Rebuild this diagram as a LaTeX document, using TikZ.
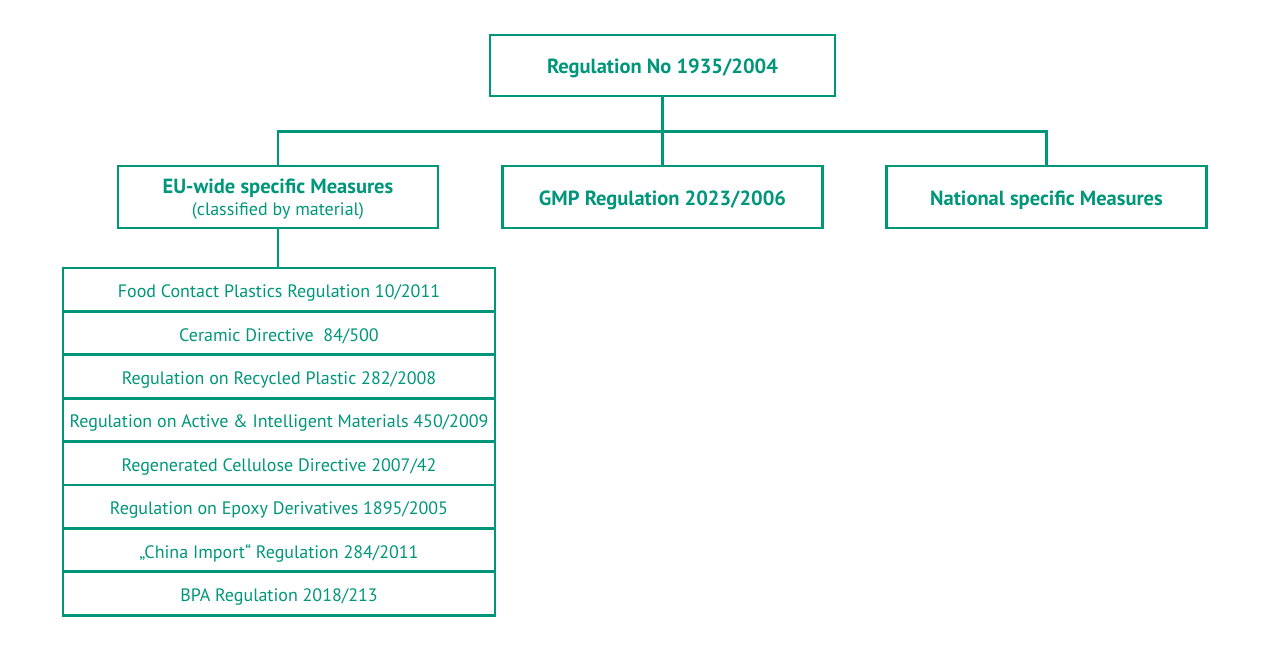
\documentclass[tikz,border=0pt]{standalone}
\usepackage{fontspec}
\setmainfont{PT Sans}
\usepackage{tikz}
\usetikzlibrary{positioning}

\definecolor{regteal}{RGB}{0,150,122}

\begin{document}
\begin{tikzpicture}[x=1pt, y=-1pt, line width=2.8pt, draw=regteal,
                  headbox/.style={draw=regteal, text=regteal, font=\fontsize{20.5}{22}\selectfont\bfseries,
                  minimum width=320pt, minimum height=62pt, align=center, inner sep=0pt,
                  text height=18pt, text depth=1pt},
                  rowbox/.style={draw=regteal, text=regteal, font=\fontsize{18}{20}\selectfont,
                  minimum width=432pt, minimum height=43.4pt, inner sep=0pt,
                  text height=17pt, text depth=1pt}]

                  \useasboundingbox (0,0) rectangle (1270,650);

                  % Kopf und zweite Ebene
                  \node[headbox, minimum width=345pt, minimum height=61pt] (reg) at (662.5,65.5)
                  {Regulation No 1935/2004};
                  \node[headbox, text height=, text depth=-3pt] (euwide) at (278,197)
                  {EU-wide specific Measures\\
                  {\fontsize{18}{20}\selectfont\mdseries (classified by material)}};
                  \node[headbox] (gmp) at (662.5,197) {GMP Regulation 2023/2006};
                  \node[headbox] (national) at (1046.5,197) {National specific Measures};

                  % Liste der Einzelmaßnahmen
                  \foreach \txt [count=\i] in {Food Contact Plastics Regulation 10/2011,
                    Ceramic Directive\ \ 84/500,
                    Regulation on Recycled Plastic 282/2008,
                    Regulation on Active \& Intelligent Materials 450/2009,
                    Regenerated Cellulose Directive 2007/42,
                    Regulation on Epoxy Derivatives 1895/2005,
                    „China Import“ Regulation 284/2011,
                    BPA Regulation 2018/213}
                  \node[rowbox] (r\i) at (279,{268+43.4*(\i-0.5)}) {\txt};

                  % Verbindungen
                  \coordinate (split) at (662.5,131.5);
                  \draw[regteal] (reg.south) -- (gmp.north);
                  \draw[regteal] (euwide.north) |- (split) -| (national.north);
                  \draw[regteal] (euwide.south) -- (euwide.south |- r1.north);

                \end{tikzpicture}
\end{document}
